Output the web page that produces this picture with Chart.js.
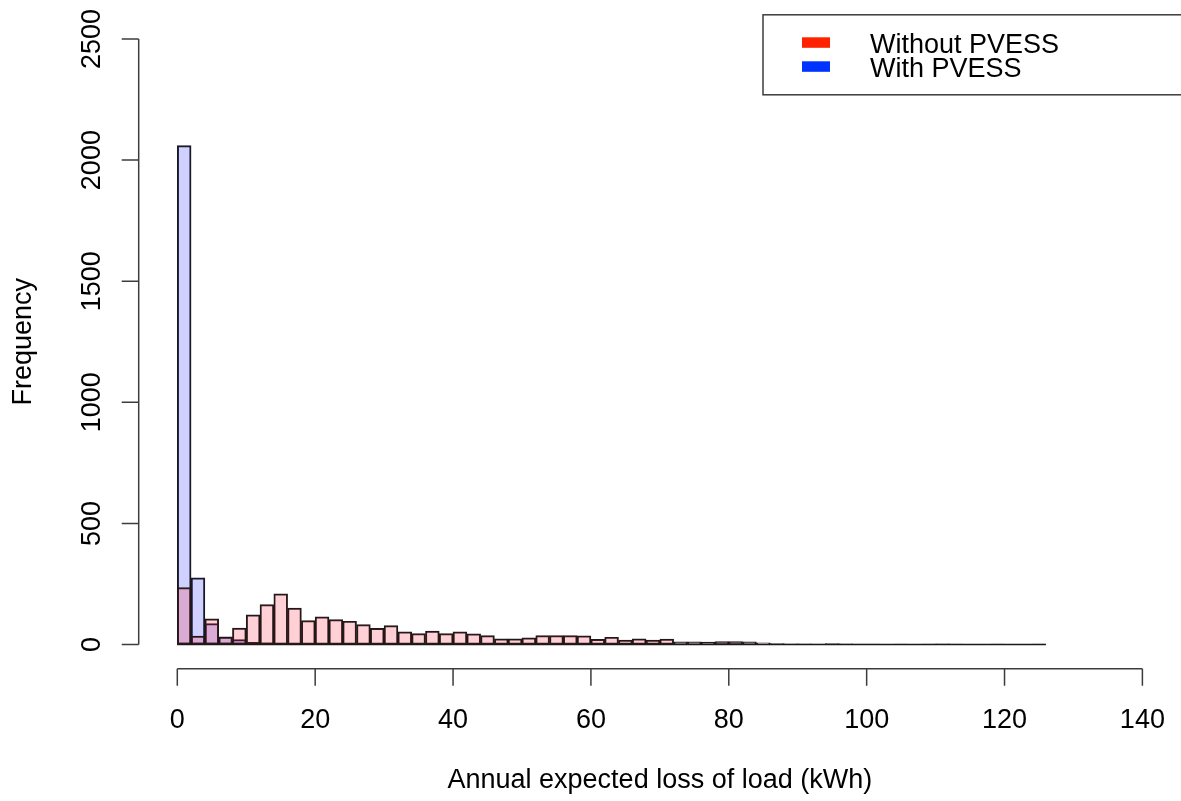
<!DOCTYPE html>
<html>
<head>
<meta charset="utf-8">
<title>Annual expected loss of load</title>
<script src="https://cdn.jsdelivr.net/npm/chart.js@4.4.1/dist/chart.umd.min.js"></script>
<style>
  html, body { margin: 0; padding: 0; background: #fff; }
  canvas { display: block; }
</style>
</head>
<body>
<canvas id="histChart" width="1181" height="801"></canvas>
<script>
// histogram bins (kWh), 2 kWh wide
const binEdges = [
  0, 2, 4, 6, 8, 10, 12, 14, 16, 18, 20, 22, 24, 26, 28, 30,
  32, 34, 36, 38, 40, 42, 44, 46, 48, 50, 52, 54, 56, 58, 60, 62,
  64, 66, 68, 70, 72, 74, 76, 78, 80, 82, 84, 86, 88, 90, 92, 94,
  96, 98, 100, 102, 104, 106, 108, 110, 112, 114, 116, 118, 120, 122, 124, 126
];

// counts per bin
const withoutPvess = [
  235, 35, 106, 30, 68, 122, 165, 209, 150, 99, 114, 103, 96, 82, 67, 78,
  52, 45, 55, 45, 52, 44, 37, 23, 23, 27, 37, 37, 37, 36, 21, 30,
  18, 23, 18, 22, 11, 11, 10, 12, 12, 11, 7, 4, 3, 3, 2, 4,
  3, 2, 2, 1, 2, 1, 2, 3, 2, 1, 1, 2, 1, 1, 2
];
const withPvess = [2060, 275, 86, 32, 20, 9, 7, 6, 5, 4, 3, 3, 2, 2, 1, 1];

const seriesNames = ["Without PVESS", "With PVESS"];
const xTicks = [0, 20, 40, 60, 80, 100, 120, 140];
const yTicks = [0, 500, 1000, 1500, 2000, 2500];

const binMids = binEdges.slice(0, -1).map((e, i) => (e + binEdges[i + 1]) / 2);

const FONT = "'Liberation Sans', Arial, sans-serif";
const FONT_SIZE = 27;
Chart.defaults.font.family = FONT;
Chart.defaults.color = "#000";

// R style axes: detached lines with outward ticks, rotated y labels
const rAxes = {
  id: "rAxes",
  afterDraw(chart) {
    const { ctx, scales: { x, y } } = chart;
    const axisY = y.getPixelForValue(y.min);
    const axisX = x.getPixelForValue(x.min);
    ctx.save();
    ctx.strokeStyle = "#3c3c3c";
    ctx.lineWidth = 1.5;
    ctx.beginPath();
    ctx.moveTo(x.getPixelForValue(xTicks[0]), axisY);
    ctx.lineTo(x.getPixelForValue(xTicks[xTicks.length - 1]), axisY);
    xTicks.forEach(v => {
      const px = x.getPixelForValue(v);
      ctx.moveTo(px, axisY);
      ctx.lineTo(px, axisY + 17);
    });
    ctx.moveTo(axisX, y.getPixelForValue(yTicks[0]));
    ctx.lineTo(axisX, y.getPixelForValue(yTicks[yTicks.length - 1]));
    yTicks.forEach(v => {
      const py = y.getPixelForValue(v);
      ctx.moveTo(axisX, py);
      ctx.lineTo(axisX - 17, py);
    });
    ctx.stroke();

    // bottom edges of the histogram bars
    ctx.strokeStyle = "#1a1a1a";
    ctx.beginPath();
    ctx.moveTo(x.getPixelForValue(binEdges[0]), y.getPixelForValue(0));
    ctx.lineTo(x.getPixelForValue(binEdges[binEdges.length - 1]), y.getPixelForValue(0));
    ctx.stroke();

    ctx.fillStyle = "#000";
    ctx.font = FONT_SIZE + "px " + FONT;
    ctx.textAlign = "center";
    ctx.textBaseline = "alphabetic";
    yTicks.forEach(v => {
      ctx.save();
      ctx.translate(axisX - 38.5, y.getPixelForValue(v));
      ctx.rotate(-Math.PI / 2);
      ctx.fillText(String(v), 0, 0);
      ctx.restore();
    });
    ctx.restore();
  }
};

// boxed legend in the top right corner
const legendBox = {
  id: "legendBox",
  afterDraw(chart) {
    const { ctx, chartArea: area } = chart;
    const right = area.right;
    const left = right - 418;
    const top = area.top;
    ctx.save();
    ctx.strokeStyle = "#3c3c3c";
    ctx.lineWidth = 1.5;
    ctx.strokeRect(left, top, right - left + 2, 80);
    ctx.font = FONT_SIZE + "px " + FONT;
    ctx.textAlign = "left";
    ctx.textBaseline = "alphabetic";
    const swatch = ["#ff2200", "#0033ff"];
    chart.data.datasets.forEach((ds, i) => {
      const rowY = top + 38 + i * 24;
      ctx.fillStyle = swatch[i];
      ctx.fillRect(left + 39, rowY - 15.5, 28, 10.5);
      ctx.fillStyle = "#000";
      ctx.fillText(ds.label, left + 107, rowY);
    });
    ctx.restore();
  }
};

const barStyle = {
  barPercentage: 1,
  categoryPercentage: 1,
  grouped: false,
  borderColor: "#1a1a1a",
  borderWidth: 1.3,
  borderSkipped: false
};

new Chart(document.getElementById("histChart"), {
  type: "bar",
  data: {
    labels: binMids,
    datasets: [
      Object.assign({ label: seriesNames[0], data: withoutPvess, backgroundColor: "rgba(255, 20, 45, 0.2)" }, barStyle),
      Object.assign({ label: seriesNames[1], data: withPvess, backgroundColor: "rgba(10, 10, 255, 0.19)" }, barStyle)
    ]
  },
  options: {
    responsive: false,
    animation: false,
    layout: { padding: { top: 14.8, right: 0, bottom: 0, left: 0 } },
    plugins: {
      legend: { display: false },
      tooltip: { enabled: false }
    },
    scales: {
      x: {
        type: "linear",
        offset: false,
        min: -5.6,
        max: 145.6,
        grid: { display: false, drawTicks: false },
        border: { display: false },
        afterBuildTicks: scale => { scale.ticks = xTicks.map(v => ({ value: v })); },
        afterFit: scale => {
          scale.height = 132.3;
          scale.paddingLeft = 0;
          scale.paddingRight = 0;
        },
        ticks: { font: { size: FONT_SIZE }, padding: 36, maxRotation: 0, autoSkip: false, color: "#000" },
        title: {
          display: true,
          text: "Annual expected loss of load (kWh)",
          font: { size: FONT_SIZE, lineHeight: 1 },
          padding: { top: 0, bottom: 7 },
          color: "#000"
        }
      },
      y: {
        min: -100,
        max: 2600,
        grid: { display: false, drawTicks: false },
        border: { display: false },
        afterBuildTicks: scale => { scale.ticks = yTicks.map(v => ({ value: v })); },
        afterFit: scale => { scale.width = 138.7; },
        ticks: { display: false },
        title: {
          display: true,
          text: "Frequency",
          font: { size: FONT_SIZE, lineHeight: 1 },
          padding: { top: 10, bottom: 0 },
          color: "#000"
        }
      }
    }
  },
  plugins: [rAxes, legendBox]
});
</script>
</body>
</html>
